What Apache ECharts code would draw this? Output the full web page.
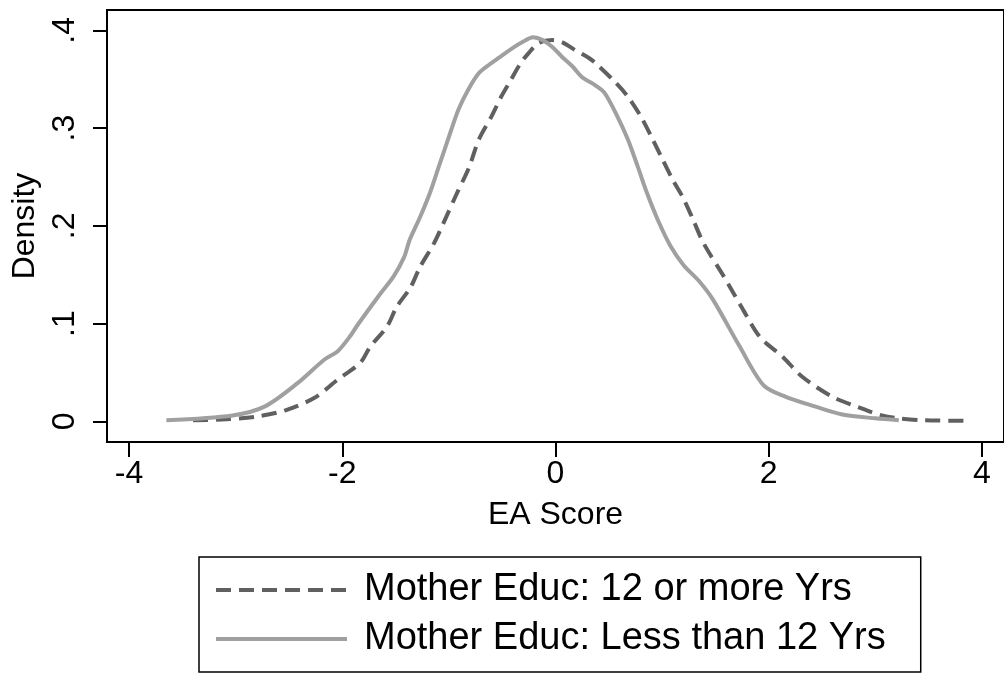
<!DOCTYPE html>
<html><head><meta charset="utf-8">
<script src="https://cdn.jsdelivr.net/npm/echarts@6/dist/echarts.min.js"></script>
<style>html,body{margin:0;padding:0;background:#fff}#c{width:1004px;height:673px}</style>
</head><body><div id="c"></div>
<script>
const seriesNames = ['Mother Educ: 12 or more Yrs', 'Mother Educ: Less than 12 Yrs'];
const xTicks = [-4, -2, 0, 2, 4];
const yTicks = [0, 0.1, 0.2, 0.3, 0.4];
const dashedX = [-3.4, -3.09, -2.79, -2.54, -2.26, -2.05, -1.83, -1.74, -1.58, -1.49, -1.36, -1.27, -1.14, -1.05, -0.93, -0.81, -0.72, -0.60, -0.51, -0.42, -0.33, -0.25, -0.16, -0.03, 0.06, 0.18, 0.31, 0.37, 0.56, 0.68, 0.80, 0.90, 0.99, 1.10, 1.19, 1.28, 1.39, 1.58, 1.76, 1.92, 2.13, 2.32, 2.60, 2.85, 3.06, 3.22, 3.46, 3.9];
const dashedY = [0.001, 0.002, 0.005, 0.011, 0.024, 0.042, 0.060, 0.076, 0.097, 0.117, 0.137, 0.158, 0.182, 0.203, 0.232, 0.260, 0.288, 0.312, 0.332, 0.349, 0.366, 0.377, 0.387, 0.390, 0.388, 0.380, 0.372, 0.367, 0.347, 0.332, 0.312, 0.291, 0.271, 0.247, 0.230, 0.209, 0.182, 0.148, 0.114, 0.086, 0.066, 0.045, 0.025, 0.014, 0.006, 0.003, 0.001, 0.0005];
const solidX = [-3.65, -3.03, -2.73, -2.42, -2.17, -2.04, -1.92, -1.86, -1.64, -1.52, -1.42, -1.37, -1.27, -1.18, -1.09, -1.0, -0.91, -0.82, -0.72, -0.62, -0.53, -0.40, -0.31, -0.21, -0.12, -0.03, 0.06, 0.16, 0.25, 0.37, 0.46, 0.58, 0.68, 0.77, 0.86, 0.96, 1.08, 1.2, 1.35, 1.48, 1.72, 1.95, 2.16, 2.44, 2.69, 3.0, 3.22];
const solidY = [0.001, 0.006, 0.015, 0.039, 0.063, 0.072, 0.088, 0.098, 0.131, 0.148, 0.168, 0.185, 0.209, 0.233, 0.262, 0.291, 0.319, 0.339, 0.356, 0.365, 0.372, 0.382, 0.388, 0.393, 0.390, 0.383, 0.373, 0.363, 0.352, 0.344, 0.336, 0.312, 0.288, 0.261, 0.233, 0.206, 0.179, 0.160, 0.143, 0.124, 0.078, 0.037, 0.025, 0.015, 0.007, 0.003, 0.001];

const zip = (xs, ys) => xs.map((x, i) => [x, ys[i]]);
const font = 'Liberation Sans, Arial, sans-serif';
const chart = echarts.init(document.getElementById('c'), null, {renderer: 'canvas'});
chart.setOption({
  animation: false,
  backgroundColor: '#fff',
  grid: {left: 107, top: 10, right: -9, bottom: 231, show: true, borderColor: '#000', borderWidth: 2},
  xAxis: {
    type: 'value', min: -4.207, max: 4.207,
    name: 'EA Score', nameLocation: 'middle', nameGap: 57,
    nameTextStyle: {fontFamily: font, fontSize: 32, color: '#000'},
    axisLine: {show: true, onZero: false, lineStyle: {color: '#000', width: 2}},
    axisTick: {show: true, length: 15, customValues: xTicks, lineStyle: {color: '#000', width: 2}},
    axisLabel: {customValues: xTicks, margin: 16, fontFamily: font, fontSize: 32, color: '#000'},
    splitLine: {show: false}
  },
  yAxis: {
    type: 'value', min: -0.0212, max: 0.4208,
    name: 'Density', nameLocation: 'middle', nameGap: 66, nameRotate: 90,
    nameTextStyle: {fontFamily: font, fontSize: 32, color: '#000'},
    axisLine: {show: true, onZero: false, lineStyle: {color: '#000', width: 2}},
    axisTick: {show: true, length: 14, customValues: yTicks, lineStyle: {color: '#000', width: 2}},
    axisLabel: {customValues: yTicks, rotate: 90, margin: 26, fontFamily: font, fontSize: 32, color: '#000',
      formatter: v => v === 0 ? '0' : String(+v.toFixed(1)).replace(/^0\./, '.')},
    splitLine: {show: false}
  },
  legend: {
    orient: 'vertical', left: 199, top: 557,
    padding: [11, 35, 11, 15], itemGap: 5,
    borderColor: '#000', borderWidth: 1.5,
    itemWidth: 131, itemHeight: 14,
    itemStyle: {opacity: 0},
    lineStyle: {width: 4},
    textStyle: {fontFamily: font, fontSize: 38, color: '#000', lineHeight: 44, padding: [0, 0, 0, 12]},
    data: seriesNames
  },
  series: [
    {name: seriesNames[0], type: 'line', data: zip(dashedX, dashedY), showSymbol: false, symbol: 'none', smooth: 0.3,
      lineStyle: {color: '#606060', width: 4, type: [15, 8]}, itemStyle: {color: '#606060'}},
    {name: seriesNames[1], type: 'line', data: zip(solidX, solidY), showSymbol: false, symbol: 'none', smooth: 0.3,
      lineStyle: {color: '#a0a0a0', width: 4}, itemStyle: {color: '#a0a0a0'}}
  ]
});
</script></body></html>
